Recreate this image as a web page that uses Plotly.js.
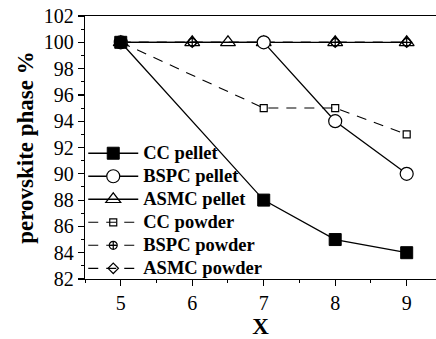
<!DOCTYPE html>
<html><head><meta charset="utf-8">
<script src="https://cdn.plot.ly/plotly-3.0.1.min.js"></script>
<style>html,body{margin:0;padding:0;overflow:hidden;background:#fff}</style>
</head><body><div id="chart" style="width:436px;height:339px"></div>
<script>
const ccPelletX = [5, 7, 8, 9];
const ccPelletY = [100, 88, 85, 84];
const bspcPelletX = [5, 7, 8, 9];
const bspcPelletY = [100, 100, 94, 90];
const asmcPelletX = [5, 6, 6.5, 7, 8, 9];
const asmcPelletY = [100, 100, 100, 100, 100, 100];
const ccPowderX = [5, 7, 8, 9];
const ccPowderY = [100, 95, 95, 93];
const bspcPowderX = [5, 6, 7, 8, 9];
const bspcPowderY = [100, 100, 100, 100, 100];
const asmcPowderX = [5, 6, 7, 8, 9];
const asmcPowderY = [100, 100, 100, 100, 100];
const names = ["CC pellet", "BSPC pellet", "ASMC pellet", "CC powder", "BSPC powder", "ASMC powder"];

const FAM = "'Liberation Serif', 'Times New Roman', serif";
const lg = s => "<span style='font-size:18.5px'>" + s + "</span>";
const ln = {color: "#000", width: 1.3};
const dl = {color: "#000", width: 1.1, dash: "10px,8px"};
const traces = [
  {x: asmcPowderX, y: asmcPowderY, name: lg(names[5]), mode: "lines+markers", line: dl,
   marker: {symbol: "diamond-open", size: 8, color: "#000", line: {width: 1.2}}},
  {x: bspcPowderX, y: bspcPowderY, name: lg(names[4]), mode: "lines+markers", line: dl,
   marker: {symbol: "circle-cross-open", size: 8, color: "#000", line: {width: 1.2}}},
  {x: ccPowderX, y: ccPowderY, name: lg(names[3]), mode: "lines+markers", line: dl,
   marker: {symbol: "square-open", size: 7, color: "#000", line: {width: 1.2}}},
  {x: asmcPelletX, y: asmcPelletY, name: lg(names[2]), mode: "lines+markers", line: ln,
   marker: {symbol: "triangle-up-open", size: 13, color: "#000", line: {width: 1.2}}},
  {x: bspcPelletX, y: bspcPelletY, name: lg(names[1]), mode: "lines+markers", line: ln,
   marker: {symbol: "circle", size: 13, color: "#fff", line: {color: "#000", width: 1.2}}},
  {x: ccPelletX, y: ccPelletY, name: lg(names[0]), mode: "lines+markers", line: ln,
   marker: {symbol: "square", size: 12, color: "#000", line: {color: "#000", width: 1}}}
];

const layout = {
  width: 436, height: 339,
  margin: {l: 85, r: 0, t: 16, b: 60},
  paper_bgcolor: "#fff", plot_bgcolor: "#fff",
  font: {family: FAM, color: "#000", size: 20},
  showlegend: true,
  legend: {x: -0.005, y: 0.541, xanchor: "left", yanchor: "top", traceorder: "reversed",
           bgcolor: "rgba(0,0,0,0)", itemwidth: 50,
           font: {family: FAM, size: 15.4, weight: "bold"}, tracegroupgap: 0},
  xaxis: {range: [4.5, 9.41], showgrid: false, zeroline: false, showline: true, mirror: true,
          linecolor: "#000", linewidth: 1.3, ticks: "outside", ticklen: 6, tickwidth: 1.2,
          tickcolor: "#000", dtick: 1, tick0: 5, tickfont: {family: FAM, size: 20},
          minor: {dtick: 0.5, ticks: "outside", ticklen: 3, tickcolor: "#000", tickwidth: 1},
          title: {text: "X", font: {family: FAM, size: 23, weight: "bold"}, standoff: 24}},
  yaxis: {range: [82, 102], showgrid: false, zeroline: false, showline: true,
          linecolor: "#000", linewidth: 1.3, ticks: "outside", ticklen: 6, tickwidth: 1.2,
          tickcolor: "#000", dtick: 2, tick0: 82, tickfont: {family: FAM, size: 20},
          minor: {dtick: 1, ticks: "outside", ticklen: 3, tickcolor: "#000", tickwidth: 1},
          title: {text: "perovskite phase %", font: {family: FAM, size: 23, weight: "bold"}, standoff: 3}}
};
Plotly.newPlot("chart", traces, layout, {displayModeBar: false, staticPlot: true});
</script></body></html>
